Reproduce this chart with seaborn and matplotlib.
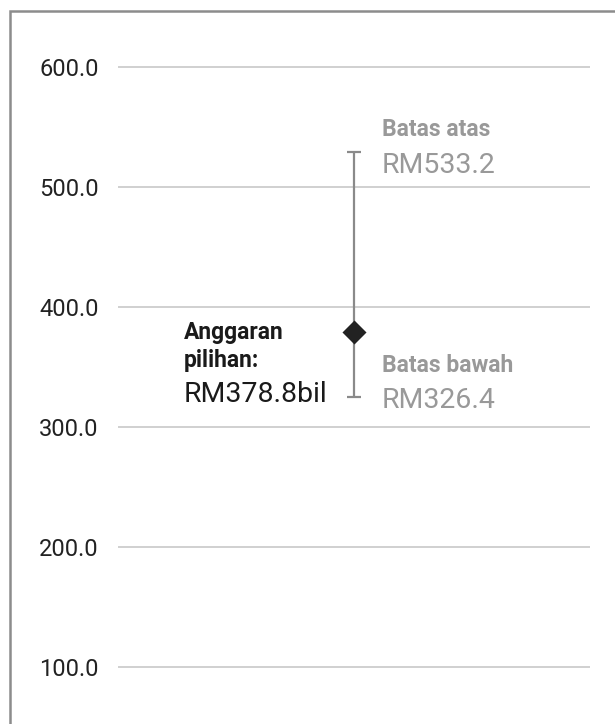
import pandas as pd
import matplotlib.pyplot as plt
import seaborn as sns
from matplotlib.patches import Rectangle

# Values
estimate = [378.8]
whisker_lo = [325.0]
whisker_hi = [529.0]
label_est = ["Anggaran", "pilihan:", "RM378.8bil"]
label_hi = ["Batas atas", "RM533.2"]
label_lo = ["Batas bawah", "RM326.4"]
y_ticks = [100, 200, 300, 400, 500, 600]

df = pd.DataFrame({"x": [0], "est": estimate, "lo": whisker_lo, "hi": whisker_hi})

sns.set_theme(style="white")
plt.rcParams["font.family"] = ["Roboto", "DejaVu Sans"]

fig = plt.figure(figsize=(6.15, 7.24), dpi=100)
ax = fig.add_axes([118 / 615, 0, 472 / 615, 1])

# range whisker
ax.errorbar(df["x"], df["est"],
            yerr=[df["est"] - df["lo"], df["hi"] - df["est"]],
            fmt="none", ecolor="#8a8a8a", elinewidth=1.6, capsize=4.7, capthick=1.6, zorder=2)
# point estimate
sns.scatterplot(data=df, x="x", y="est", marker="D", s=150, color="#222222",
                linewidth=0, ax=ax, zorder=3)

ax.set_xlim(-1, 1)
ax.set_ylim(52.5, 655.8)
ax.set_yticks(y_ticks)
ax.set_yticklabels([f"{t:.1f}" for t in y_ticks], fontsize=17, color="#222222")
ax.set_xticks([])
ax.set_xlabel("")
ax.set_ylabel("")
ax.tick_params(axis="y", length=0, pad=14)
ax.grid(axis="y", color="#d0d0d0", linewidth=1.4)
ax.set_axisbelow(True)
for s in ax.spines.values():
    s.set_visible(False)

x0, est, lo, hi = 0, estimate[0], whisker_lo[0], whisker_hi[0]
gray = "#999999"

def put(txt, y, dx, dy, size, weight, color):
    ax.annotate(txt, xy=(x0, y), xytext=(dx, dy), textcoords="offset pixels",
                fontsize=size, fontweight=weight, color=color,
                ha="left", va="baseline")

put(label_hi[0], hi, 28, 16, 16.5, "bold", gray)
put(label_hi[1], hi, 28, -21, 20.5, "normal", gray)
put(label_lo[0], lo, 28, 25, 16.5, "bold", gray)
put(label_lo[1], lo, 28, -11, 20.5, "normal", gray)
put(label_est[0], est, -170, -7, 16.5, "bold", "#1a1a1a")
put(label_est[1], est, -170, -35, 16.5, "bold", "#1a1a1a")
put(label_est[2], est, -170, -70, 20.5, "normal", "#1a1a1a")

# outer frame (cut off at right and bottom in the original)
fig.patches.append(Rectangle((10 / 615, -0.1), 1.2, 1.1 - 11 / 724, transform=fig.transFigure,
                             fill=False, edgecolor="#8c8c8c", linewidth=1.8, zorder=5))

fig.savefig("out.png", dpi=100)
